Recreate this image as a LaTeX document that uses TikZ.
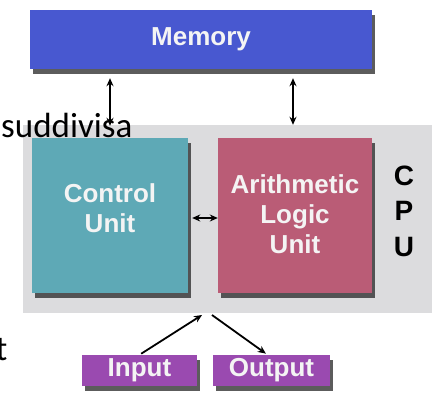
\documentclass[tikz,border=0pt]{standalone}
\usepackage{fontspec}
\setmainfont{Liberation Sans}
\newfontfamily\carl{Carlito}
\usetikzlibrary{shadows,arrows.meta}
\definecolor{memblue}{HTML}{4858D0}
\definecolor{cuteal}{HTML}{5EA9B6}
\definecolor{alured}{HTML}{BA5C76}
\definecolor{iopurple}{HTML}{9A4AB0}
\definecolor{cpugrey}{HTML}{DCDCDE}
\definecolor{labwhite}{HTML}{F4F4F4}
\tikzset{
  unitbox/.style={draw=none, inner sep=0pt, minimum width=#1,
    drop shadow={shadow xshift=3pt, shadow yshift=-5pt, opacity=0.75, fill=black!85}},
  lab/.style={text=labwhite, font=\fontsize{26}{30}\selectfont\bfseries, align=center, inner sep=0pt},
  dbl/.style={{Stealth[length=8pt,width=7pt]}-{Stealth[length=8pt,width=7pt]}, line width=1.8pt, black},
  arr/.style={-{Stealth[length=8pt,width=7pt]}, line width=1.8pt, black},
  cpul/.style={font=\fontsize{28}{28}\selectfont\bfseries, inner sep=0pt, text=black},
  side/.style={font=\carl\fontsize{35}{35}\selectfont, inner sep=0pt, text=black}
}
\begin{document}
\begin{tikzpicture}[x=1pt,y=-1pt]
\useasboundingbox (0,0) rectangle (435,396);
\clip (0,0) rectangle (435,396);
\fill[white] (0,0) rectangle (435,396);
% CPU grey area
\node[fill=cpugrey, inner sep=0pt, minimum width=409pt, minimum height=188pt] (cpu) at (227.5,219) {};
% Memory
\node[unitbox=342pt, fill=memblue, minimum height=59pt] (mem) at (201,39.5) {};
\node[lab] (memtext) at (mem.center) {Memory};
% Control unit
\node[unitbox=156pt, fill=cuteal, minimum height=155pt] (cu) at (110,215.5) {};
\node[lab] (cutext) at (110,208) {Control\\Unit};
% ALU
\node[unitbox=154pt, fill=alured, minimum height=155pt] (alu) at (295,215.5) {};
\node[lab] (alutext) at (295,214) {Arithmetic\\Logic\\Unit};
% CPU letters
\node[cpul] (lc) at (404,176) {C};
\node[cpul] (lp) at (404,211) {P};
\node[cpul] (lu) at (404,247) {U};
% Input / Output
\node[unitbox=115pt, fill=iopurple, minimum height=31pt] (inp) at (139.5,370.5) {};
\node[lab] (inptext) at (inp.center) {Input};
\node[unitbox=117pt, fill=iopurple, minimum height=31pt] (out) at (271.5,370.5) {};
\node[lab] (outtext) at (out.center) {Output};
% connectors
\draw[dbl, shorten <=9pt, shorten >=12pt] (mem.south -| cu.north) -- (cu.north);
\draw[dbl, shorten <=9pt] (mem.south -| 293,0) -- (cpu.north -| 293,0);
\draw[dbl, shorten <=4pt] ([yshift=-2.5pt]cu.east) -- ([yshift=-2.5pt]alu.west);
\coordinate (ioin) at (202,315);
\coordinate (ioout) at (212,315);
\draw[arr, shorten <=2pt] (inp.north) -- (ioin);
\draw[arr, shorten >=2pt] (ioout) -- ([xshift=-4pt]out.north);
% side text
\node[side, anchor=base west] (sudd) at (1,137) {suddivisa};
\node[side, anchor=base west] (tt) at (-4.5,360) {t};
\end{tikzpicture}
\end{document}
